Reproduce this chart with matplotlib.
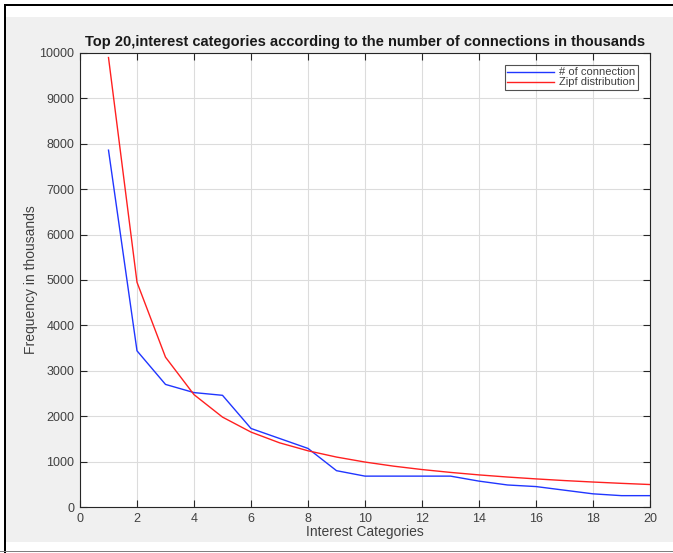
import numpy as np
import matplotlib.pyplot as plt
from matplotlib.patches import Rectangle

plt.rcParams['font.family'] = ['Liberation Sans', 'DejaVu Sans']

categories = list(range(1, 21))
connections = [7860, 3440, 2700, 2520, 2460, 1730, 1510, 1290, 800, 680,
               680, 680, 680, 570, 485, 450, 370, 290, 250, 250]
zipf = [9900, 4950, 3300, 2475, 1980, 1650, 1414, 1238, 1100, 990,
        900, 825, 762, 707, 660, 619, 582, 550, 521, 495]
xticks = list(range(0, 21, 2))
yticks = list(range(0, 10001, 1000))

W, H = 673, 553
fig = plt.figure(figsize=(W / 100, H / 100), dpi=100, facecolor='white')

# gray MATLAB figure area + black frame edges
fig.patches.append(Rectangle((6 / W, 1 - 542 / H), 1, (542 - 17) / H,
                             transform=fig.transFigure, facecolor='#f0f0f0',
                             edgecolor='none', zorder=-10))
fig.patches.append(Rectangle((4 / W, 0.0), 2 / W, 1 - 5 / H,
                             transform=fig.transFigure, facecolor='black',
                             edgecolor='none', zorder=-9))
fig.patches.append(Rectangle((4 / W, 1 - 6 / H), 1, 2 / H,
                             transform=fig.transFigure, facecolor='black',
                             edgecolor='none', zorder=-9))
fig.patches.append(Rectangle((0, 1 - 552 / H), 1, 1 / H,
                             transform=fig.transFigure, facecolor='#808080',
                             edgecolor='none', zorder=-9))

ax = fig.add_axes([80 / W, 1 - 507 / H, 570 / W, 454 / H])
ax.set_facecolor('white')
ax.plot(categories, connections, color='#2036ff', lw=1.0, label='# of connection')
ax.plot(categories, zipf, color='#ff2020', lw=1.0, label='Zipf distribution')

ax.set_xlim(0, 20)
ax.set_ylim(0, 10000)
ax.set_xticks(xticks)
ax.set_yticks(yticks)
ax.grid(True, color='#dcdcdc', lw=0.8)
ax.set_axisbelow(True)
ax.tick_params(direction='in', length=5, width=0.8, top=True, right=True,
               labelsize=9, labelcolor='#404040', color='#262626', pad=4)
for s in ax.spines.values():
    s.set_color('#262626')
    s.set_linewidth(0.8)

ax.set_title('Top 20,interest categories according to the number of connections in thousands',
             fontsize=10.5, fontweight='bold', color='#1a1a1a', pad=5)
ax.set_xlabel('Interest Categories', fontsize=10, color='#404040', labelpad=0)
ax.set_ylabel('Frequency in thousands', fontsize=10, color='#404040', labelpad=1)

leg = ax.legend(loc='upper right', fontsize=8, frameon=True, fancybox=False,
                handlelength=4.2, handletextpad=0.5, borderpad=0.2,
                labelspacing=0.0, borderaxespad=1.1)
leg.get_frame().set_edgecolor('#262626')
leg.get_frame().set_linewidth(0.8)
for t in leg.get_texts():
    t.set_color('#404040')

fig.savefig('out.png', dpi=100, facecolor='white')
